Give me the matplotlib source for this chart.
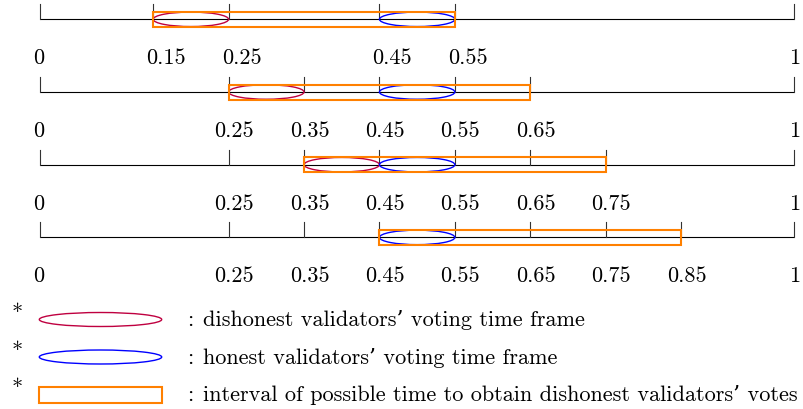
import matplotlib
matplotlib.use("Agg")
import matplotlib.pyplot as plt
from matplotlib.patches import Ellipse, Rectangle
from matplotlib.transforms import offset_copy

plt.rcParams['font.family'] = ['cmr10', 'DejaVu Serif']
plt.rcParams['axes.unicode_minus'] = False

# ---------------- data ----------------
row_ticks = [
    [0, 0.15, 0.25, 0.45, 0.55, 1],
    [0, 0.25, 0.35, 0.45, 0.55, 0.65, 1],
    [0, 0.25, 0.35, 0.45, 0.55, 0.65, 0.75, 1],
    [0, 0.25, 0.35, 0.45, 0.55, 0.65, 0.75, 0.85, 1],
]
row_tick_labels = [
    ["0", "0.15", "0.25", "0.45", "0.55", "1"],
    ["0", "0.25", "0.35", "0.45", "0.55", "0.65", "1"],
    ["0", "0.25", "0.35", "0.45", "0.55", "0.65", "0.75", "1"],
    ["0", "0.25", "0.35", "0.45", "0.55", "0.65", "0.75", "0.85", "1"],
]
dishonest = [(0.15, 0.25), (0.25, 0.35), (0.35, 0.45), None]
honest = [(0.45, 0.55), (0.45, 0.55), (0.45, 0.55), (0.45, 0.55)]
interval = [(0.15, 0.55), (0.25, 0.65), (0.35, 0.75), (0.45, 0.85)]
legend_texts = [
    "dishonest validators\u2019 voting time frame",
    "honest validators\u2019 voting time frame",
    "interval of possible time to obtain dishonest validators\u2019 votes",
]

# ---------------- style ----------------
RED = '#BF0040'
BLUE = '#0000FF'
ORANGE = '#FF8000'
W, H = 804, 409
FS = 16.0

fig = plt.figure(figsize=(W / 100, H / 100), dpi=100)
ax = fig.add_axes([0, 0, 1, 1])
x0_px, x1_px = 40.0, 794.3
scale = x1_px - x0_px
ax.set_xlim(-x0_px / scale, (W - x0_px) / scale)
ax.set_ylim(H, 0)   # y in pixel rows from the top
ax.axis('off')

row_y0, row_dy = 19.3, 72.7
tick_h = 15
shape_h = 14.5
rect_h = 15
label_dy = 45
label_dx_row = [13, 5.5, 5.5, 5.5]

for i in range(len(row_ticks)):
    y = row_y0 + row_dy * i
    ax.plot([0, 1], [y, y], color='black', lw=0.8, solid_capstyle='butt', zorder=1)
    for t, lab in zip(row_ticks[i], row_tick_labels[i]):
        ax.plot([t, t], [y - tick_h, y], color='#333333', lw=0.8, zorder=1)
        if t == 0:
            dx = -1.5
        elif t == 1:
            dx = 0
        else:
            dx = label_dx_row[i]
        tr = offset_copy(ax.transData, fig=fig, x=dx, y=0, units='dots')
        ax.text(t, y + label_dy, lab, transform=tr, ha='center', va='baseline',
                fontsize=FS)
    if dishonest[i] is not None:
        a, b = dishonest[i]
        ax.add_patch(Ellipse(((a + b) / 2, y), b - a, shape_h, fill=False,
                             edgecolor=RED, lw=1.0, zorder=2))
    a, b = honest[i]
    ax.add_patch(Ellipse(((a + b) / 2, y), b - a, shape_h, fill=False,
                         edgecolor=BLUE, lw=1.0, zorder=2))
    a, b = interval[i]
    ax.add_patch(Rectangle((a, y - rect_h / 2), b - a, rect_h, fill=False,
                           edgecolor=ORANGE, lw=1.5, zorder=3))

# ---------------- legend ----------------
leg_y = [319.5, 357, 394.7]
leg_x0 = (39.3 - x0_px) / scale
leg_w = (161.7 - 39.3) / scale
colon_x = (187 - x0_px) / scale
text_x = (203 - x0_px) / scale
star_x = (17.5 - x0_px) / scale
for k, (txt, ly) in enumerate(zip(legend_texts, leg_y)):
    if k == 0:
        ax.add_patch(Ellipse((leg_x0 + leg_w / 2, ly), leg_w, 14, fill=False,
                             edgecolor=RED, lw=1.0))
    elif k == 1:
        ax.add_patch(Ellipse((leg_x0 + leg_w / 2, ly), leg_w, 14, fill=False,
                             edgecolor=BLUE, lw=1.0))
    else:
        ax.add_patch(Rectangle((leg_x0, ly - 8), leg_w, 16, fill=False,
                               edgecolor=ORANGE, lw=1.5))
    ax.text(star_x, ly - 6, "*", ha='center', va='center', fontsize=FS)
    ax.text(colon_x, ly + 6.5, ":", ha='left', va='baseline', fontsize=FS)
    ax.text(text_x, ly + 6.5, txt, ha='left', va='baseline', fontsize=FS)

fig.savefig('out.png', dpi=100)
